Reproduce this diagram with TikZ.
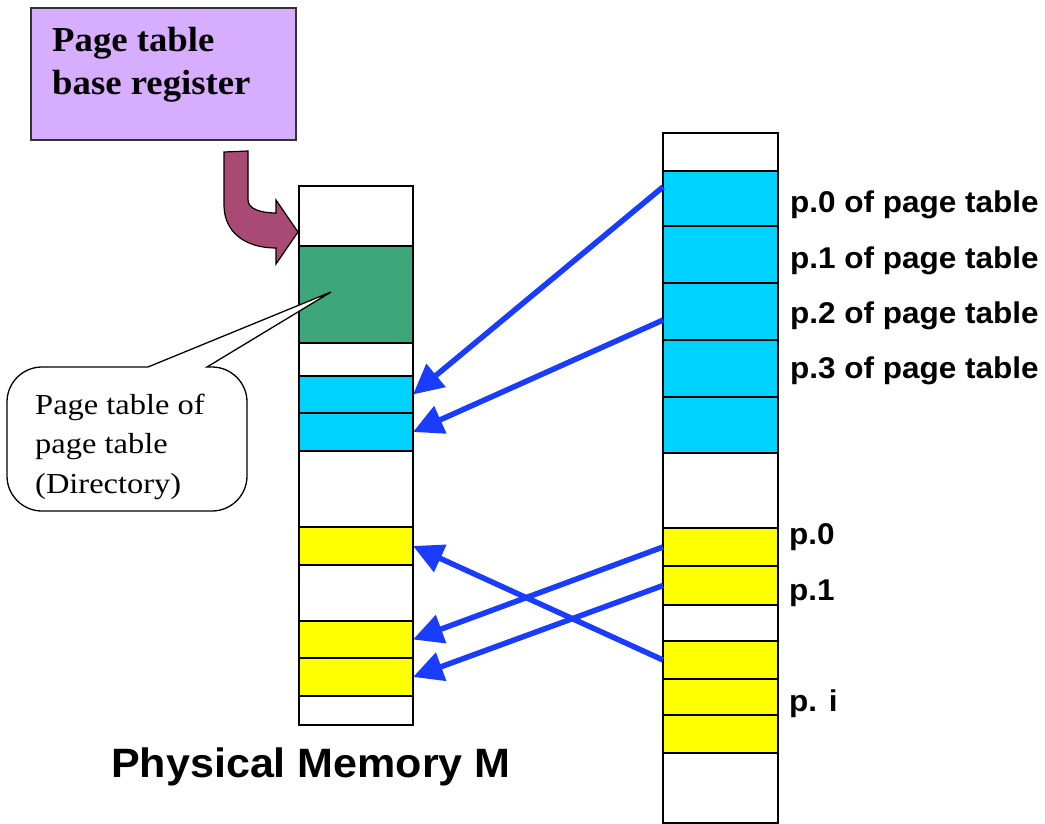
\documentclass[tikz,border=0pt]{standalone}
\usepackage{fontspec}
\setmainfont{Liberation Serif}
\newfontfamily\regfont{Liberation Serif}[FakeStretch=1.05]
\newfontfamily\labfont{Liberation Sans}[FakeStretch=1.05]
\newfontfamily\callfont{Liberation Serif}[FakeStretch=1.12]
\usetikzlibrary{arrows.meta,calc}
\definecolor{cyanc}{HTML}{00D2FF}
\definecolor{greenc}{HTML}{3DA67A}
\definecolor{yellowc}{HTML}{FFFF00}
\definecolor{regfill}{HTML}{D7ADFF}
\definecolor{bendfill}{HTML}{A94A75}
\definecolor{arrowblue}{HTML}{1A3CFF}
\tikzset{
  cellbox/.style={draw=black, line width=1.3pt, inner sep=0pt, outer sep=0pt, anchor=north west},
  lcell/.style={cellbox, minimum width=114pt},
  rcell/.style={cellbox, minimum width=115pt},
  ptr/.style={draw=arrowblue, line width=5.5pt, -{Triangle[length=30pt,width=29pt]}},
  lab/.style={font=\labfont\bfseries\fontsize{30}{36}\selectfont, anchor=base west, inner sep=0pt},
}
\begin{document}
\begin{tikzpicture}[x=1pt,y=-1pt]
\useasboundingbox (0,0) rectangle (1045,824);

% register
\node[draw=black!80, line width=1.3pt, fill=regfill, anchor=north west, minimum width=265pt, minimum height=132pt, inner sep=0pt, outer sep=0pt] (reg) at (31,8) {};
\node[font=\regfont\bfseries\fontsize{35}{43}\selectfont, anchor=base west, align=left, inner sep=0pt] (regtext) at (52,95) {Page table\\base register};

% left column (physical memory)
\node[lcell, fill=white,   minimum height=60pt] (L1)  at (299,186) {};
\node[lcell, fill=greenc,  minimum height=97pt] (L2)  at (299,246) {};
\node[lcell, fill=white,   minimum height=33pt] (L3)  at (299,343) {};
\node[lcell, fill=cyanc,   minimum height=37pt] (L4)  at (299,376) {};
\node[lcell, fill=cyanc,   minimum height=38pt] (L5)  at (299,413) {};
\node[lcell, fill=white,   minimum height=76pt] (L6)  at (299,451) {};
\node[lcell, fill=yellowc, minimum height=38pt] (L7)  at (299,527) {};
\node[lcell, fill=white,   minimum height=56pt] (L8)  at (299,565) {};
\node[lcell, fill=yellowc, minimum height=37pt] (L9)  at (299,621) {};
\node[lcell, fill=yellowc, minimum height=38pt] (L10) at (299,658) {};
\node[lcell, fill=white,   minimum height=29pt] (L11) at (299,696) {};

% right column (virtual space)
\node[rcell, fill=white,   minimum height=38pt] (R1)  at (663,133) {};
\node[rcell, fill=cyanc,   minimum height=55pt] (R2)  at (663,171) {};
\node[rcell, fill=cyanc,   minimum height=57pt] (R3)  at (663,226) {};
\node[rcell, fill=cyanc,   minimum height=57pt] (R4)  at (663,283) {};
\node[rcell, fill=cyanc,   minimum height=57pt] (R5)  at (663,340) {};
\node[rcell, fill=cyanc,   minimum height=56pt] (R6)  at (663,397) {};
\node[rcell, fill=white,   minimum height=75pt] (R7)  at (663,453) {};
\node[rcell, fill=yellowc, minimum height=38pt] (R8)  at (663,528) {};
\node[rcell, fill=yellowc, minimum height=39pt] (R9)  at (663,566) {};
\node[rcell, fill=white,   minimum height=36pt] (R10) at (663,605) {};
\node[rcell, fill=yellowc, minimum height=38pt] (R11) at (663,641) {};
\node[rcell, fill=yellowc, minimum height=36pt] (R12) at (663,679) {};
\node[rcell, fill=yellowc, minimum height=38pt] (R13) at (663,715) {};
\node[rcell, fill=white,   minimum height=70pt] (R14) at (663,753) {};

% labels
\node[lab] (lp0) at (790,213) {p.0 of page table};
\node[lab] (lp1) at (790,268) {p.1 of page table};
\node[lab] (lp2) at (790,323) {p.2 of page table};
\node[lab] (lp3) at (790,378) {p.3 of page table};
\node[lab] (q0) at (789,544) {p.0};
\node[lab] (q1) at (789,600) {p.1};
\node[lab] (qi) at (789,711) {p. i};

\node[font=\labfont\bfseries\fontsize{41}{49}\selectfont, anchor=base, inner sep=0pt] (title) at (311,777) {Physical Memory M};

% bent block arrow from register
\draw[fill=bendfill, draw=black, line width=1.2pt, line join=miter]
  (224,152) -- (248,151) -- (248,200)
  .. controls (248,209) and (261,213) .. (276,213)
  -- (276,200) -- (298,232) -- (276,264) -- (276,248)
  .. controls (245,248) and (224,232) .. (224,205) -- cycle;

% callout
\draw[fill=white, draw=black, line width=1.3pt, line join=miter]
  (207,367) -- (212,367) .. controls (231.3,367) and (247,382.7) .. (247,402)
  -- (247,476) .. controls (247,495.3) and (231.3,511) .. (212,511)
  -- (42,511) .. controls (22.7,511) and (7,495.3) .. (7,476)
  -- (7,402) .. controls (7,382.7) and (22.7,367) .. (42,367)
  -- (148,367) -- (331,292) -- cycle;
\node[font=\callfont\fontsize{29}{39.5}\selectfont, anchor=base west, align=left, inner sep=0pt] (calltext) at (35,493) {Page table of\\page table\\(Directory)};

% blue pointers
\draw[ptr] ($(R2.north west)!0.29!(R2.south west)$) -- (L4.east);
\draw[ptr] ($(R4.north west)!0.65!(R4.south west)$) -- (L5.east);
\draw[ptr] (R8.west) -- (L9.east);
\draw[ptr] (R9.west) -- (L10.east);
\draw[ptr] (R11.west) -- (L7.east);
\end{tikzpicture}
\end{document}
